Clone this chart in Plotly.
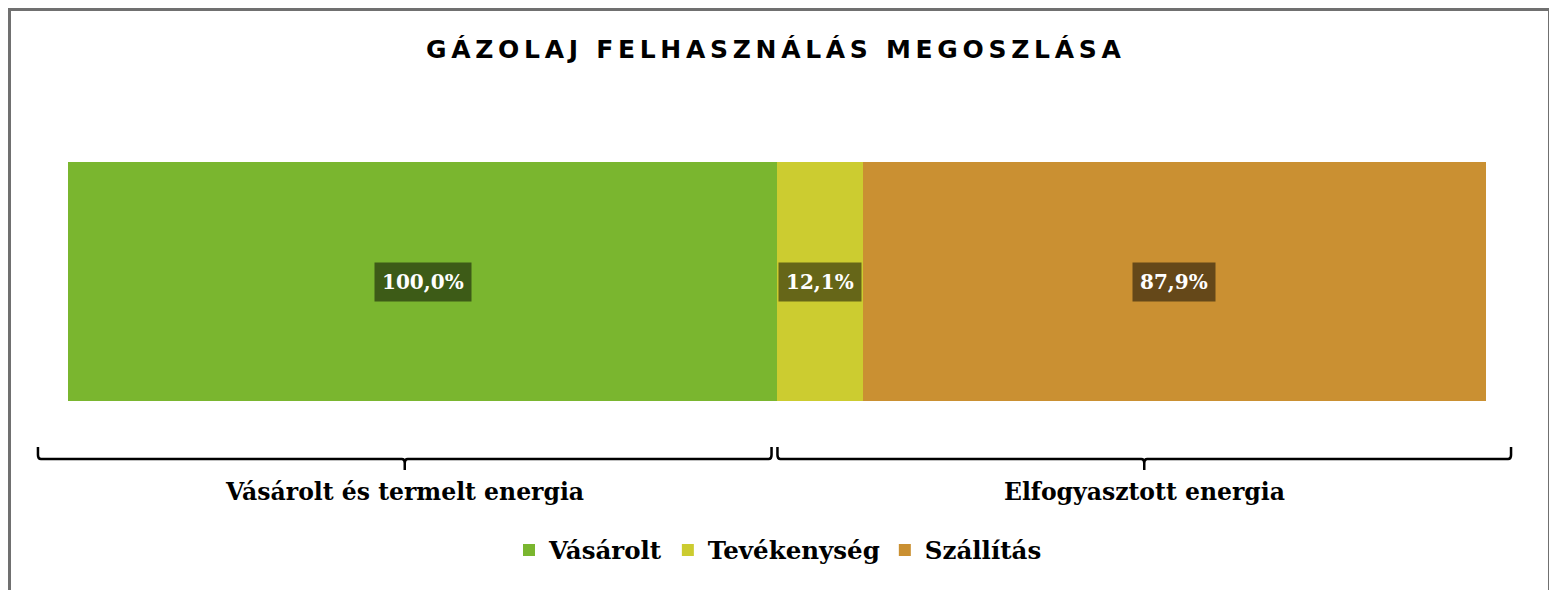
import plotly.graph_objects as go

# ---- data ----
groups = ["Vásárolt és termelt energia", "Elfogyasztott energia"]
series = ["Vásárolt", "Tevékenység", "Szállítás"]
group_of_series = [0, 1, 1]
values = [100.0, 12.1, 87.9]
colors = ["#7AB62F", "#CCCC30", "#CA9032"]
title_text = "GÁZOLAJ FELHASZNÁLÁS MEGOSZLÁSA"

# page body adds an 8px margin, so the figure is drawn from (8, 8)
OFF = 8
W, H = 1557 - OFF, 590 - OFF
def px_x(p): return (p - OFF) / W
def px_y(p): return 1 - (p - OFF) / H

serif = "DejaVu Serif"

fig = go.Figure()
bases = []
offsets = {}
for i, (s, v, g) in enumerate(zip(series, values, group_of_series)):
    start = g * 100 + offsets.get(g, 0.0)
    offsets[g] = offsets.get(g, 0.0) + v
    bases.append(start)
    fig.add_trace(go.Bar(
        x=[v], y=[0], base=[start], orientation="h", name="<b>" + s + "</b>",
        marker=dict(color=colors[i], line=dict(width=0)),
        hoverinfo="skip",
    ))

annotations = []
for i, (s, v, b) in enumerate(zip(series, values, bases)):
    annotations.append(dict(
        x=b + v / 2, y=0, xref="x", yref="y",
        text="<b>" + f"{v:.1f}".replace(".", ",") + "%</b>",
        showarrow=False, font=dict(family=serif, size=20, color="white"),
        bgcolor="rgba(0,0,0,0.5)", borderpad=7,
    ))

for gi, gname in enumerate(groups):
    annotations.append(dict(
        x=gi + 0.5, y=px_y(492), xref="x2", yref="paper",
        text="<b>" + gname + "</b>", showarrow=False,
        font=dict(family=serif, size=23.5, color="black"), yanchor="middle",
    ))

annotations.append(dict(
    x=px_x(775), y=px_y(50), xref="paper", yref="paper",
    text='<b><span style="letter-spacing:4.7px">' + title_text + "</span></b>",
    showarrow=False, font=dict(family="DejaVu Sans", size=25, color="black"),
    xanchor="center", yanchor="middle",
))

shapes = []
yl = px_y(459)
ytop = px_y(447)
ytick = px_y(470)
def brace(x0, x1):
    xm = (x0 + x1) / 2
    d = 0.004
    return (f"M {x0},{ytop} L {x0},{px_y(455)} Q {x0},{yl} {x0 + d},{yl} "
            f"L {xm - d},{yl} Q {xm},{yl} {xm},{px_y(463)} L {xm},{ytick} "
            f"M {xm},{px_y(463)} Q {xm},{yl} {xm + d},{yl} "
            f"L {x1 - d},{yl} Q {x1},{yl} {x1},{px_y(455)} L {x1},{ytop}")
for gi in range(len(groups)):
    shapes.append(dict(type="path", xref="x2", yref="paper",
                       path=brace(gi + 0.004, gi + 0.996),
                       line=dict(color="black", width=2.5)))

shapes.append(dict(type="rect", xref="paper", yref="paper",
                   x0=px_x(9.5), x1=px_x(1549.5), y0=-0.2, y1=px_y(9.5),
                   line=dict(color="#707070", width=3)))

fig.add_trace(go.Scatter(x=[0, len(groups)], y=[0, 0], xaxis="x2", yaxis="y2",
                         mode="markers", marker=dict(opacity=0), showlegend=False,
                         hoverinfo="skip"))

fig.update_layout(
    width=W, height=H,
    margin=dict(l=0, r=0, t=0, b=0),
    paper_bgcolor="white", plot_bgcolor="white",
    barmode="overlay", bargap=0,
    showlegend=True,
    legend=dict(orientation="h", x=px_x(778), xanchor="center", y=px_y(550), yanchor="middle",
                font=dict(family=serif, size=24.5, color="black"),
                itemwidth=30, traceorder="normal", itemclick=False),
    xaxis=dict(domain=[px_x(68), px_x(1486)], range=[0, 200], visible=False, fixedrange=True),
    yaxis=dict(domain=[px_y(401), px_y(162)], range=[-0.5, 0.5], visible=False, fixedrange=True),
    xaxis2=dict(domain=[px_x(35), px_x(1514)], range=[0, len(groups)], visible=False,
                anchor="y2"),
    yaxis2=dict(domain=[0, 0.05], range=[-1, 1], visible=False, anchor="x2"),
    annotations=annotations, shapes=shapes,
)

fig.write_html("out.html")
